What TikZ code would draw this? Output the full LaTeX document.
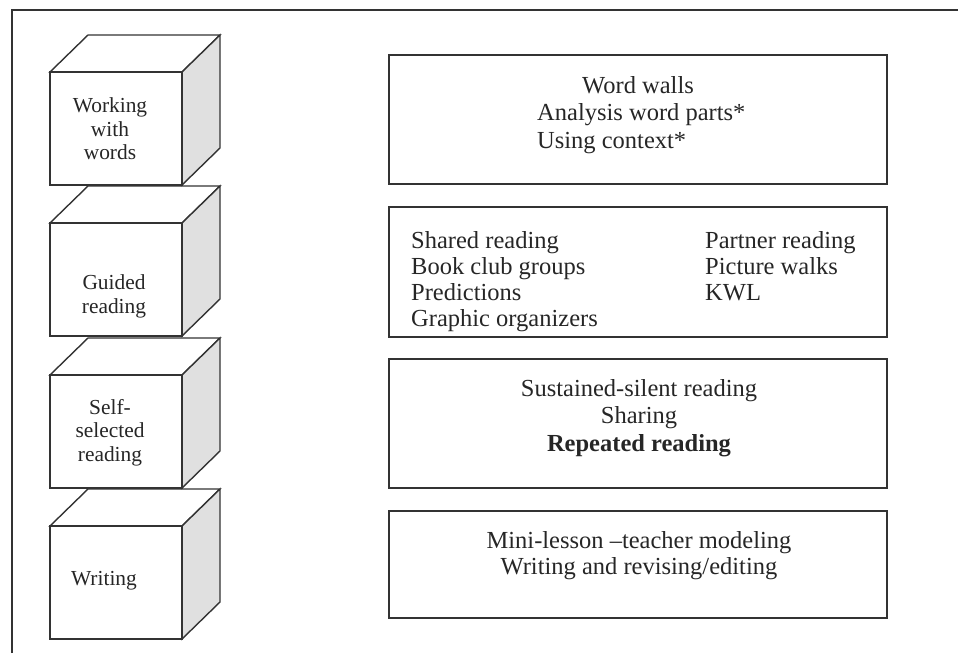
\documentclass[tikz,border=0pt]{standalone}
\usepackage{fontspec}
\setmainfont{Liberation Serif}
\begin{document}
\begin{tikzpicture}[x=1pt,y=-1pt,line join=miter]
\tikzset{
  ln/.style={draw=black!80, line width=1.4pt},
  sideface/.style={fill=black!12},
  boxtext/.style={font=\fontsize{24.5}{27.5}\selectfont, inner sep=0pt, text=black!85},
  boxtextb/.style={font=\fontsize{24.5}{26}\selectfont, inner sep=0pt, text=black!85},
  cubetext/.style={font=\fontsize{21.4}{23.5}\selectfont, align=center, inner sep=0pt, text=black!85},
}
\useasboundingbox (0,0) rectangle (958,653);
% frame
\draw[ln] (12,653) -- (12,10) -- (958,10);
% cubes (bottom first)
\foreach \t in {526,375,223,72} {
  \draw[ln, fill=white] (50,\t) -- ++(38,-37) -- ++(132,0) -- ++(-38,37) -- cycle;
  \draw[ln, sideface] (182,\t) -- ++(38,-37) -- ++(0,113) -- ++(-38,37) -- cycle;
  \draw[ln, fill=white] (50,\t) rectangle ++(132,113);
}
\node[cubetext] (t1) at (110,129) {Working\\with\\words};
\node[cubetext] (t2) at (114,296.5) {Guided\\reading};
\node[cubetext] (t3) at (110,432.5) {Self-\\selected\\reading};
\node[cubetext] (t4) at (104,581) {Writing};
% right boxes
\draw[ln] (389,55) rectangle (887,184);
\draw[ln] (389,207) rectangle (887,337);
\draw[ln] (389,359) rectangle (887,488);
\draw[ln] (389,511) rectangle (887,618);
\node[boxtext, align=left, anchor=west] (b1) at (537,115) {\hspace*{45pt}Word walls\\Analysis word parts*\\Using context*};
\node[boxtextb, align=left, anchor=west] (b2l) at (411,282) {Shared reading\\Book club groups\\Predictions\\Graphic organizers};
\node[boxtextb, align=left, anchor=west] (b2r) at (705,266) {Partner reading\\Picture walks\\KWL};
\node[boxtext, align=center] (b3) at (639,418) {Sustained-silent reading\\Sharing\\\textbf{Repeated reading}};
\node[boxtextb, align=center] (b4) at (639,556) {Mini-lesson --teacher modeling\\Writing and revising/editing};
\end{tikzpicture}
\end{document}
